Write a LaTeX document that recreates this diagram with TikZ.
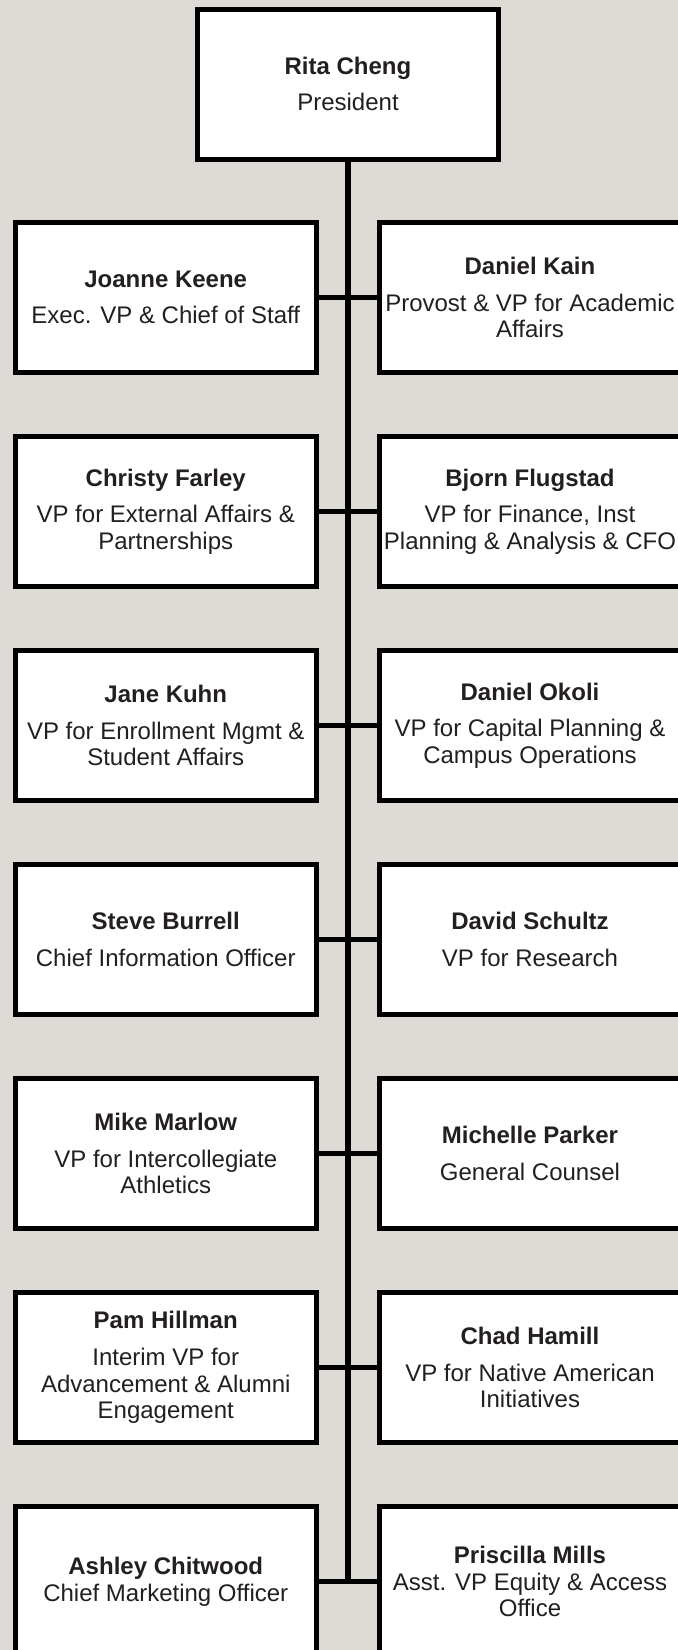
\documentclass[tikz,border=0pt]{standalone}
\usepackage{fontspec}
\setmainfont{Liberation Sans}
\definecolor{bg}{RGB}{222,218,214}
\definecolor{ink}{RGB}{35,31,32}
\begin{document}
\begin{tikzpicture}[x=0.75pt,y=-0.75pt,
  person/.style={draw=black, fill=white, line width=3.75pt,
    minimum width=226.1pt, minimum height=112.5pt, inner sep=0pt,
    align=center, text=ink, font=\fontsize{18}{20}\selectfont},
  trunk/.style={draw=black, line width=4.5pt},
  branch/.style={draw=black, line width=3.75pt}]
\useasboundingbox (0,0) rectangle (678,1650);
\clip (0,0) rectangle (678,1650);
\fill[bg] (0,0) rectangle (678,1650);

\node[person] (pres) at (348,84) {\textbf{Rita Cheng}\\[7.5pt]President};

\node[person] (l1) at (165.75,297.5) {\textbf{Joanne Keene}\\[7.5pt]Exec. VP \& Chief of Staff};
\node[person] (r1) at (530,297.5) {\textbf{Daniel Kain}\\[7.5pt]Provost \& VP for Academic\\Affairs};

\node[person] (l2) at (165.75,511.5) {\textbf{Christy Farley}\\[7.5pt]VP for External Affairs \&\\Partnerships};
\node[person] (r2) at (530,511.5) {\textbf{Bjorn Flugstad}\\[7.5pt]VP for Finance, Inst\\Planning \& Analysis \& CFO};

\node[person] (l3) at (165.75,725.5) {\textbf{Jane Kuhn}\\[7.5pt]VP for Enrollment Mgmt \&\\Student Affairs};
\node[person] (r3) at (530,725.5) {\textbf{Daniel Okoli}\\[7.5pt]VP for Capital Planning \&\\Campus Operations};

\node[person] (l4) at (165.75,939.5) {\textbf{Steve Burrell}\\[7.5pt]Chief Information Officer};
\node[person] (r4) at (530,939.5) {\textbf{David Schultz}\\[7.5pt]VP for Research};

\node[person] (l5) at (165.75,1153.5) {\textbf{Mike Marlow}\\[7.5pt]VP for Intercollegiate\\Athletics};
\node[person] (r5) at (530,1153.5) {\textbf{Michelle Parker}\\[7.5pt]General Counsel};

\node[person] (l6) at (165.75,1367.5) {\textbf{Pam Hillman}\\[7.5pt]Interim VP for\\Advancement \& Alumni\\Engagement};
\node[person] (r6) at (530,1367.5) {\textbf{Chad Hamill}\\[7.5pt]VP for Native American\\Initiatives};

\node[person] (l7) at (165.75,1581.5) {\textbf{Ashley Chitwood}\\Chief Marketing Officer};
\node[person] (r7) at (530,1581.5) {\textbf{Priscilla Mills}\\Asst. VP Equity \& Access\\Office};

\coordinate (end) at (348,1581.5);
\draw[trunk] (pres.south) -- (end);
\foreach \i in {1,...,7} {
  \draw[branch] (l\i.east) -- (r\i.west);
}
\end{tikzpicture}
\end{document}
